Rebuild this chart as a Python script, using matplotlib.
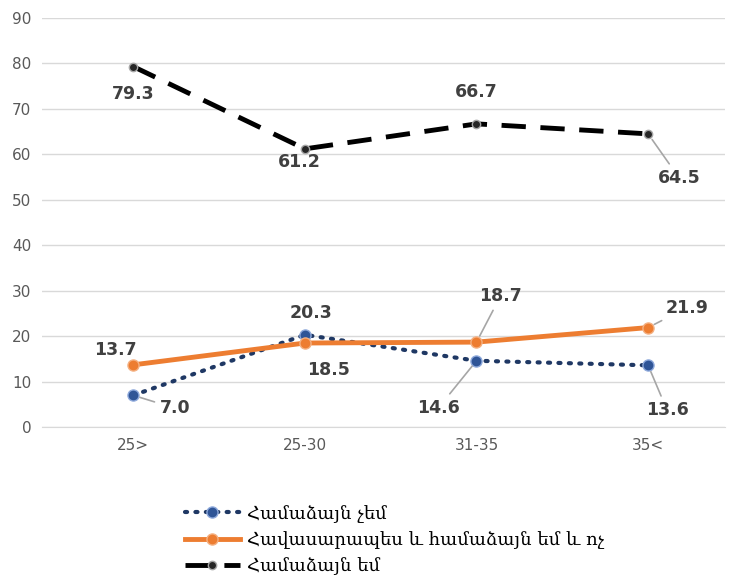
import matplotlib.pyplot as plt
import numpy as np

categories = ["25>", "25-30", "31-35", "35<"]
disagree = [7.0, 20.3, 14.6, 13.6]
neutral = [13.7, 18.5, 18.7, 21.9]
agree = [79.3, 61.2, 66.7, 64.5]
series_names = ["Համաձայն չեմ", "Հավասարապես և համաձայն եմ և ոչ", "Համաձայն եմ"]

# label offsets in pixels (dx, dy) and whether a leader line is drawn
disagree_off = [((42, -13), True), ((6, 22), False), ((-38, -47), True), ((19, -45), True)]
neutral_off = [((-18, 15), False), ((24, -27), False), ((24, 46), True), ((39, 20), True)]
agree_off = [((0, -27), False), ((-6, -13), False), ((0, 32), False), ((31, -44), True)]

fig = plt.figure(figsize=(7.29, 5.78), dpi=100)
ax = fig.add_axes([0.058, 0.261, 0.937, 0.708])

x = np.arange(len(categories))
l1, = ax.plot(x, disagree, color="#1F3864", lw=3, ls=(0, (0.5, 2.0)), dash_capstyle="round",
              marker="o", ms=8, mfc="#2F5597", mec="#8FAADC", mew=1, zorder=3)
l2, = ax.plot(x, neutral, color="#ED7D31", lw=3.5, marker="o", ms=8,
              mfc="#ED7D31", mec="#F4B183", mew=1, zorder=3)
l3, = ax.plot(x, agree, color="black", lw=3.5, ls=(0, (5, 3)),
              marker="o", ms=6, mfc="#262626", mec="#A6A6A6", mew=1, zorder=3)

for vals, offs in [(disagree, disagree_off), (neutral, neutral_off), (agree, agree_off)]:
    for xi, v, (off, leader) in zip(x, vals, offs):
        ax.annotate(f"{v:.1f}", (xi, v), xytext=off, textcoords="offset pixels",
                    ha="center", va="center", fontsize=12.5, fontweight="bold", color="#404040",
                    arrowprops=dict(arrowstyle="-", color="#A6A6A6", lw=1.2, shrinkA=2, shrinkB=5)
                    if leader else None, zorder=4)

ax.set_ylim(0, 90)
ax.set_yticks(range(0, 91, 10))
ax.set_xlim(-0.53, 3.45)
ax.set_xticks(x)
ax.set_xticklabels(categories)
ax.grid(axis="y", color="#D9D9D9", lw=1)
ax.set_axisbelow(True)
for s in ["top", "right", "left"]:
    ax.spines[s].set_visible(False)
ax.spines["bottom"].set_color("#D9D9D9")
ax.tick_params(length=0, labelsize=11, colors="#595959", pad=8)

fig.legend([l1, l2, l3], series_names, loc="upper left", bbox_to_anchor=(0.232, 0.155),
           frameon=False, handlelength=3.0, labelspacing=0.45, handletextpad=0.4,
           prop={"family": "DejaVu Serif", "size": 13})

fig.savefig("out.png", dpi=100)
